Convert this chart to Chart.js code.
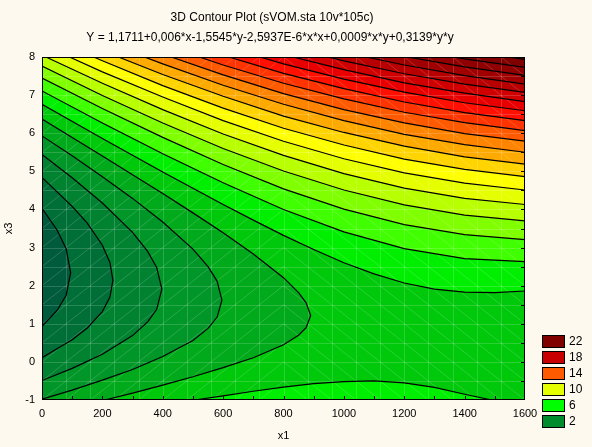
<!DOCTYPE html>
<html>
<head>
<meta charset="utf-8">
<script src="https://cdn.jsdelivr.net/npm/chart.js@4.4.0/dist/chart.umd.min.js"></script>
<style>
  html, body { margin: 0; padding: 0; background: #fdf9ef; }
  #wrap { width: 592px; height: 447px; }
</style>
</head>
<body>
<div id="wrap"><canvas id="chart" width="592" height="447"></canvas></div>
<script>
// axis ticks and legend
const xTicks = [0, 200, 400, 600, 800, 1000, 1200, 1400, 1600];
const yTicks = [-1, 0, 1, 2, 3, 4, 5, 6, 7, 8];
const legendLevels = [22, 18, 14, 10, 6, 2];

// contour lines (x1, x3), one per level of Y
// levels 0..4 bend back to the left (low Y basin)
const c0 = [[0, 4.03], [50, 3.46], [80, 2.97], [95, 2.34], [80, 1.75], [50, 1.35], [0, 0.93]];
const c1 = [[0, 4.84], [100, 4.08], [150, 3.64], [200, 3.06], [225, 2.61], [235, 2.14], [225, 1.7], [200, 1.32], [150, 0.89], [100, 0.58], [0, 0.11]];
const c2 = [[0, 5.44], [100, 4.83], [200, 4.17], [300, 3.4], [350, 2.9], [380, 2.48], [397, 1.91], [380, 1.38], [350, 1.05], [300, 0.69], [200, 0.2], [100, -0.17], [0, -0.49]];
const c3 = [[0, 5.93], [100, 5.41], [200, 4.86], [300, 4.29], [400, 3.67], [500, 2.96], [550, 2.5], [580, 2.12], [596, 1.62], [580, 1.17], [550, 0.88], [500, 0.56], [400, 0.14], [300, -0.2], [200, -0.48], [100, -0.74], [0, -0.98]];
const c4 = [[0, 6.37], [200, 5.4], [300, 4.91], [400, 4.42], [500, 3.91], [600, 3.39], [700, 2.83], [800, 2.21], [850, 1.82], [875, 1.55], [890, 1.22], [875, 0.9], [850, 0.7], [800, 0.45], [700, 0.11], [600, -0.15], [500, -0.39], [400, -0.61], [300, -0.82], [208, -1]];
// level 5: upper line and the small rise along the bottom
const c5 = [[0, 6.76], [200, 5.86], [400, 4.98], [600, 4.13], [700, 3.72], [800, 3.32], [900, 2.95], [1000, 2.6], [1100, 2.31], [1200, 2.07], [1300, 1.91], [1400, 1.83], [1500, 1.82], [1600, 1.86]];
const c5low = [[505, -1], [600, -0.89], [700, -0.77], [800, -0.66], [900, -0.57], [1000, -0.52], [1100, -0.5], [1200, -0.55], [1300, -0.67], [1400, -0.85], [1490, -1]];
// levels 6..23 run from upper left to the right edge
const c6 = [[0, 7.11], [200, 6.27], [400, 5.46], [600, 4.7], [800, 4.0], [1000, 3.41], [1200, 2.97], [1400, 2.71], [1600, 2.63]];
const c7 = [[0, 7.45], [200, 6.65], [400, 5.89], [600, 5.18], [800, 4.54], [1000, 4.01], [1200, 3.6], [1400, 3.34], [1600, 3.21]];
const c8 = [[0, 7.76], [200, 6.99], [400, 6.27], [600, 5.6], [800, 5.01], [1000, 4.51], [1200, 4.12], [1400, 3.85], [1600, 3.7]];
const c9 = [[13, 8], [200, 7.31], [400, 6.62], [600, 5.98], [800, 5.42], [1000, 4.94], [1200, 4.56], [1400, 4.29], [1600, 4.13]];
const c10 = [[91, 8], [200, 7.61], [400, 6.95], [600, 6.33], [800, 5.79], [1000, 5.33], [1200, 4.96], [1400, 4.69], [1600, 4.51]];
const c11 = [[171, 8], [200, 7.9], [400, 7.25], [600, 6.66], [800, 6.13], [1000, 5.69], [1200, 5.32], [1400, 5.05], [1600, 4.86]];
const c12 = [[253, 8], [400, 7.54], [600, 6.97], [800, 6.45], [1000, 6.02], [1200, 5.66], [1400, 5.38], [1600, 5.19]];
const c13 = [[339, 8], [400, 7.82], [600, 7.26], [800, 6.76], [1000, 6.33], [1200, 5.97], [1400, 5.7], [1600, 5.5]];
const c14 = [[428, 8], [600, 7.53], [800, 7.04], [1000, 6.62], [1200, 6.27], [1400, 5.99], [1600, 5.79]];
const c15 = [[521, 8], [600, 7.79], [800, 7.31], [1000, 6.9], [1200, 6.55], [1400, 6.28], [1600, 6.07]];
const c16 = [[619, 8], [800, 7.57], [1000, 7.17], [1200, 6.82], [1400, 6.54], [1600, 6.33]];
const c17 = [[722, 8], [800, 7.82], [1000, 7.42], [1200, 7.08], [1400, 6.8], [1600, 6.59]];
const c18 = [[831, 8], [1000, 7.67], [1200, 7.32], [1400, 7.05], [1600, 6.83]];
const c19 = [[947, 8], [1000, 7.9], [1200, 7.56], [1400, 7.29], [1600, 7.07]];
const c20 = [[1073, 8], [1200, 7.79], [1400, 7.51], [1600, 7.29]];
const c21 = [[1210, 8], [1400, 7.74], [1600, 7.52]];
const c22 = [[1363, 8], [1400, 7.95], [1600, 7.73]];
const c23 = [[1540, 8], [1600, 7.94]];

const contours = [c0, c1, c2, c3, c4, c5, c6, c7, c8, c9, c10, c11, c12, c13, c14, c15, c16, c17, c18, c19, c20, c21, c22, c23];

// colours: band 0 is below level 0, band k lies between level k-1 and k
const bandColors = [
  "#005a3c", "#006e37", "#008230", "#009628", "#00aa1a", "#00c80a",
  "#00ee00", "#40ff00", "#80ff00", "#b8ff00", "#e6ff00", "#ffff00",
  "#ffd400", "#ffaa00", "#ff8400", "#ff5a00", "#ff3400", "#ff1000",
  "#e80000", "#d00000", "#b80000", "#a00000", "#900000", "#800000", "#760000",
];
const legendColors = ["#800000", "#c80000", "#ff5a00", "#e6ff00", "#00ff00", "#008c2d"];

const xMin = 0, xMax = 1600, yMin = -1, yMax = 8;
const FONT = 'Arial, "Liberation Sans", sans-serif';

const toXY = (pts) => pts.map(([x, y]) => ({ x, y }));
const shape = (pts, color, order) => ({
  data: toXY(pts),
  showLine: true,
  fill: "shape",
  backgroundColor: color,
  borderColor: "transparent",
  borderWidth: 0,
  pointRadius: 0,
  order: order,
});

const datasets = [];
// whole plot gets the wide middle band first
datasets.push(shape([[xMin, yMin], [xMax, yMin], [xMax, yMax], [xMin, yMax]], bandColors[5], 3000));
// basins on the left, below each level
for (let lv = 4; lv >= 0; lv--) {
  const pts = lv === 4 ? [...contours[4], [xMin, yMin]] : contours[lv];
  datasets.push(shape(pts, bandColors[lv], 2000 + lv));
}
// areas above each level, toward the upper right
for (let lv = 5; lv < contours.length; lv++) {
  const c = contours[lv];
  const pts = [...c, [xMax, yMax]];
  if (c[0][1] < yMax) pts.push([xMin, yMax]);
  datasets.push(shape(pts, bandColors[lv + 1], 1000 - lv));
}
datasets.push(shape(c5low, bandColors[6], 995));
// the black contour lines on top
[...contours, c5low].forEach((c) => {
  datasets.push({
    data: toXY(c),
    showLine: true,
    fill: false,
    borderColor: "#000",
    borderWidth: 1.2,
    pointRadius: 0,
    order: 0,
  });
});

let meshDone = false;
const decor = {
  id: "decor",
  beforeDraw() {
    meshDone = false;
  },
  beforeDatasetDraw(chart, args) {
    if (meshDone || chart.data.datasets[args.index].order !== 0) return;
    meshDone = true;
    const { ctx, chartArea: a } = chart;
    const xs = chart.scales.x, ys = chart.scales.y;
    ctx.save();
    ctx.beginPath();
    ctx.rect(a.left, a.top, a.right - a.left, a.bottom - a.top);
    ctx.clip();
    ctx.strokeStyle = "rgba(255,255,255,0.17)";
    ctx.lineWidth = 1;
    ctx.beginPath();
    for (let x = xMin; x <= xMax; x += 80) {
      const px = Math.round(xs.getPixelForValue(x)) + 0.5;
      ctx.moveTo(px, a.top);
      ctx.lineTo(px, a.bottom);
    }
    for (let y = yMin; y <= yMax; y += 0.5) {
      const py = Math.round(ys.getPixelForValue(y)) + 0.5;
      ctx.moveTo(a.left, py);
      ctx.lineTo(a.right, py);
    }
    for (let x = xMin; x < xMax; x += 80) {
      for (let y = yMin; y < yMax; y += 0.5) {
        const x0 = xs.getPixelForValue(x), x1 = xs.getPixelForValue(x + 80);
        const y0 = ys.getPixelForValue(y), y1 = ys.getPixelForValue(y + 0.5);
        if (x < 800) {
          ctx.moveTo(x0, y0);
          ctx.lineTo(x1, y1);
        } else {
          ctx.moveTo(x0, y1);
          ctx.lineTo(x1, y0);
        }
      }
    }
    ctx.stroke();
    ctx.restore();
  },
  afterDraw(chart) {
    const { ctx, chartArea: a } = chart;
    const xs = chart.scales.x, ys = chart.scales.y;
    ctx.save();
    // frame
    ctx.strokeStyle = "#000";
    ctx.lineWidth = 1;
    ctx.strokeRect(a.left + 0.5, a.top + 0.5, a.right - a.left - 1, a.bottom - a.top - 1);
    // small inner ticks
    ctx.beginPath();
    for (let y = yMin + 0.5; y < yMax; y += 0.5) {
      const py = Math.round(ys.getPixelForValue(y)) + 0.5;
      ctx.moveTo(a.right - 4, py);
      ctx.lineTo(a.right, py);
    }
    for (let x = 100; x < xMax; x += 100) {
      const px = Math.round(xs.getPixelForValue(x)) + 0.5;
      ctx.moveTo(px, a.bottom - 4);
      ctx.lineTo(px, a.bottom);
    }
    ctx.stroke();
    // title
    ctx.fillStyle = "#000";
    ctx.textAlign = "center";
    ctx.textBaseline = "middle";
    ctx.font = "12px " + FONT;
    ctx.fillText("3D Contour Plot (sVOM.sta 10v*105c)", 272, 18);
    ctx.fillText("Y = 1,1711+0,006*x-1,5545*y-2,5937E-6*x*x+0,0009*x*y+0,3139*y*y", 270, 38);
    // legend
    ctx.textAlign = "left";
    legendLevels.forEach((lv, i) => {
      const top = 335 + i * 16;
      ctx.fillStyle = legendColors[i];
      ctx.fillRect(542, top, 23, 12);
      ctx.strokeStyle = "#000";
      ctx.strokeRect(542.5, top + 0.5, 22, 12);
      ctx.fillStyle = "#000";
      ctx.fillText(String(lv), 569, top + 6.5);
    });
    ctx.restore();
  },
};

new Chart(document.getElementById("chart"), {
  type: "scatter",
  data: { datasets },
  options: {
    responsive: false,
    animation: false,
    devicePixelRatio: 1,
    layout: { padding: { top: 57, right: 67, left: 0, bottom: 0 } },
    plugins: {
      legend: { display: false },
      tooltip: { enabled: false },
      title: { display: false },
    },
    scales: {
      x: {
        type: "linear",
        min: xMin,
        max: xMax,
        afterBuildTicks: (s) => { s.ticks = xTicks.map((v) => ({ value: v })); },
        afterFit: (s) => { s.height = 47; },
        grid: { display: false, drawTicks: false },
        border: { display: false },
        ticks: { color: "#000", font: { family: FONT, size: 11 }, padding: 7, maxRotation: 0, autoSkip: false, callback: (v) => String(v) },
        title: { display: true, text: "x1", color: "#000", font: { family: FONT, size: 11 }, padding: { top: 0, bottom: 4 } },
      },
      y: {
        type: "linear",
        min: yMin,
        max: yMax,
        afterBuildTicks: (s) => { s.ticks = yTicks.map((v) => ({ value: v })); },
        afterFit: (s) => { s.width = 42; },
        grid: { display: false, drawTicks: false },
        border: { display: false },
        ticks: { color: "#000", font: { family: FONT, size: 11 }, padding: 7, autoSkip: false, callback: (v) => String(v) },
        title: { display: true, text: "x3", color: "#000", font: { family: FONT, size: 11 }, padding: { top: 2, bottom: 0 } },
      },
    },
  },
  plugins: [decor],
});
</script>
</body>
</html>
